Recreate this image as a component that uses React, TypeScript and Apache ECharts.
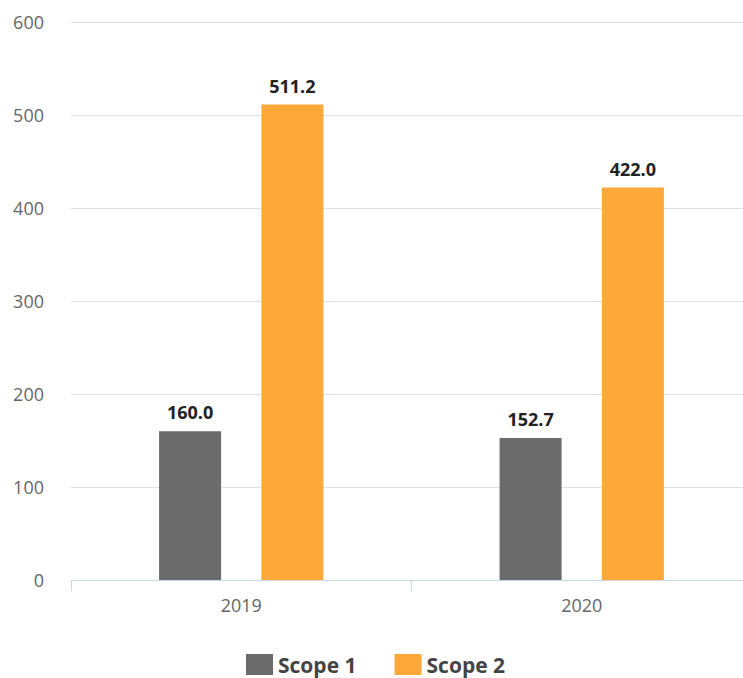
import React, { useEffect, useRef } from "react";
import * as echarts from "echarts";

const categories = ["2019", "2020"];
const scope1 = [160.0, 152.7];
const scope2 = [511.2, 422.0];
const yTicks = { min: 0, max: 600, interval: 100 };

export default function App() {
  const ref = useRef<HTMLDivElement>(null);
  useEffect(() => {
    const chart = echarts.init(ref.current!, null, { renderer: "svg" });
    const font = "'Open Sans', 'Noto Sans', sans-serif";
    const label = {
      show: true,
      position: "top",
      distance: 10,
      fontFamily: font,
      fontSize: 18,
      fontWeight: "bold",
      color: "#222",
      formatter: (p: any) => Number(p.value).toFixed(1),
    };
    chart.setOption({
      animation: false,
      grid: { left: 71, top: 22, bottom: 98, right: 0, containLabel: false },
      legend: {
        top: 654,
        left: 246,
        padding: 0,
        itemWidth: 27,
        itemHeight: 21,
        itemGap: 38,
        icon: "rect",
        textStyle: { fontFamily: font, fontSize: 21, fontWeight: "bold", color: "#444" },
        data: ["Scope 1", "Scope 2"],
      },
      xAxis: {
        type: "category",
        data: categories,
        axisLine: { lineStyle: { color: "#ccd6eb" } },
        axisTick: { show: true, length: 11, lineStyle: { color: "#ccd6eb" } },
        axisLabel: { fontFamily: font, fontSize: 18, color: "#666", margin: 16 },
      },
      yAxis: {
        type: "value",
        min: yTicks.min,
        max: yTicks.max,
        interval: yTicks.interval,
        axisLine: { show: false },
        axisTick: { show: false },
        splitLine: { lineStyle: { color: "#e0e0e0" } },
        axisLabel: { fontFamily: font, fontSize: 18, color: "#666", margin: 27 },
      },
      series: [
        {
          name: "Scope 1",
          type: "bar",
          data: scope1,
          barWidth: 62,
          barGap: "65%",
          itemStyle: { color: "#6b6b6b" },
          label,
        },
        {
          name: "Scope 2",
          type: "bar",
          data: scope2,
          barWidth: 62,
          barGap: "65%",
          itemStyle: { color: "#ffa83a" },
          label,
        },
      ],
    });
    return () => chart.dispose();
  }, []);
  return (
    <div style={{ position: "fixed", left: 0, top: 0, width: 743, height: 678, overflow: "hidden", background: "#fff" }}>
      <div ref={ref} style={{ width: 752, height: 678 }} />
    </div>
  );
}
